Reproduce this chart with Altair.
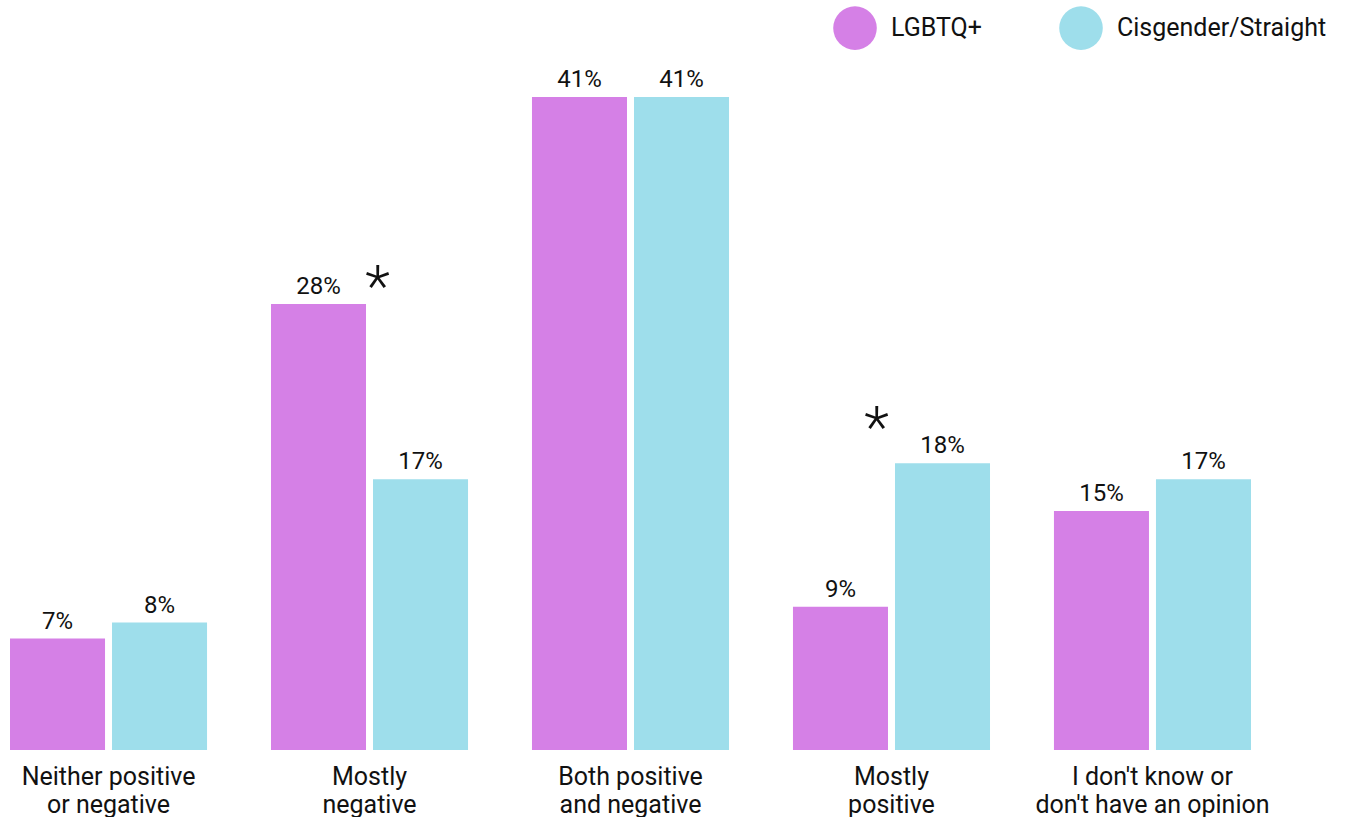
import altair as alt
import pandas as pd

categories = [
    "Neither positive|or negative",
    "Mostly|negative",
    "Both positive|and negative",
    "Mostly|positive",
    "I don't know or|don't have an opinion",
]
groups = ["LGBTQ+", "Cisgender/Straight"]
lgbtq_values = [7, 28, 41, 9, 15]
cis_values = [8, 17, 41, 18, 17]
colors = ["#D580E6", "#9EDEEB"]

# significance markers (category, group of the higher bar, value)
star_left = {"category": ["Mostly|negative"], "group": ["LGBTQ+"], "value": [28]}
star_right = {"category": ["Mostly|positive"], "group": ["Cisgender/Straight"], "value": [18]}

rows = []
for c, a, b in zip(categories, lgbtq_values, cis_values):
    rows.append({"category": c, "group": groups[0], "value": a})
    rows.append({"category": c, "group": groups[1], "value": b})
df = pd.DataFrame(rows)

FONT = "Roboto"
TXT = "#111111"

x_enc = alt.X(
    "category:N",
    sort=categories,
    scale=alt.Scale(paddingInner=0.245, paddingOuter=0),
    axis=alt.Axis(
        title=None,
        labelAngle=0,
        domain=False,
        ticks=False,
        labelFontSize=25,
        labelFont=FONT,
        labelColor=TXT,
        labelPadding=14,
        labelLineHeight=28,
        labelOverlap=False,
        labelLimit=0,
        labelExpr="split(datum.label, '|')",
    ),
)
xoff_enc = alt.XOffset(
    "group:N", sort=groups, scale=alt.Scale(paddingInner=0.0686, paddingOuter=0)
)
y_enc = alt.Y("value:Q", scale=alt.Scale(domain=[0, 41], nice=False), axis=None)

base = alt.Chart(df).encode(x=x_enc, xOffset=xoff_enc, y=y_enc)

bars = base.mark_bar().encode(
    color=alt.Color(
        "group:N",
        sort=groups,
        scale=alt.Scale(domain=groups, range=colors),
        legend=alt.Legend(
            title=None,
            orient="none",
            legendX=823,
            legendY=-91,
            direction="horizontal",
            symbolType="circle",
            symbolSize=1900,
            symbolStrokeWidth=0,
            symbolOpacity=1,
            labelFontSize=25,
            labelFont=FONT,
            labelColor=TXT,
            labelOffset=14,
            labelLimit=0,
            columnPadding=77,
        ),
    )
)

labels = base.transform_calculate(lbl="datum.value + '%'").mark_text(
    baseline="alphabetic", dy=-10, fontSize=24, font=FONT, color=TXT
).encode(text="lbl:N")

star1 = alt.Chart(pd.DataFrame(star_left)).mark_text(
    text="*", fontSize=58, font=FONT, fontWeight=300, color=TXT, baseline="alphabetic", dx=59, dy=2
).encode(x=x_enc, xOffset=xoff_enc, y=y_enc)

star2 = alt.Chart(pd.DataFrame(star_right)).mark_text(
    text="*", fontSize=58, font=FONT, fontWeight=300, color=TXT, baseline="alphabetic", dx=-66, dy=-16
).encode(x=x_enc, xOffset=xoff_enc, y=y_enc)

chart = (
    alt.layer(bars, labels, star1, star2)
    .properties(
        width=1241,
        height=653,
        padding={"left": 10, "top": 97, "right": 97, "bottom": 67},
        autosize=alt.AutoSizeParams(type="none"),
    )
    .configure_view(stroke=None)
)

chart.save("out.html", embed_options={"renderer": "svg", "actions": False})
